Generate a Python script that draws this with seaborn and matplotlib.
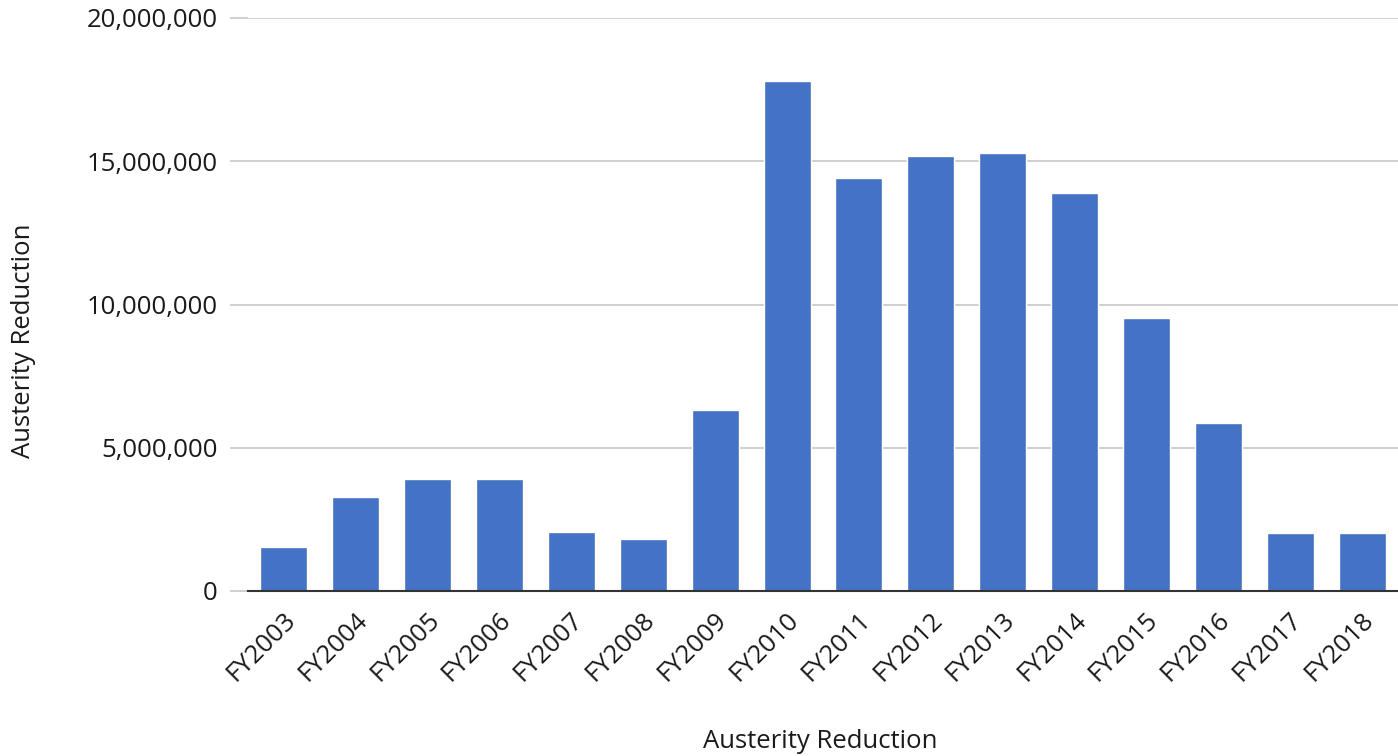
import matplotlib
matplotlib.use("Agg")
import matplotlib.pyplot as plt
import seaborn as sns
import pandas as pd
from matplotlib.ticker import FuncFormatter
from matplotlib.transforms import ScaledTranslation

years = ["FY2003", "FY2004", "FY2005", "FY2006", "FY2007", "FY2008", "FY2009", "FY2010",
         "FY2011", "FY2012", "FY2013", "FY2014", "FY2015", "FY2016", "FY2017", "FY2018"]
reduction = [1540000, 3290000, 3900000, 3900000, 2060000, 1800000, 6320000, 17800000,
             14420000, 15200000, 15290000, 13900000, 9520000, 5870000, 2040000, 2040000]
y_ticks = [0, 5000000, 10000000, 15000000, 20000000]

df = pd.DataFrame({"year": years, "reduction": reduction})

sns.set_theme(style="white")
plt.rcParams["font.family"] = ["Open Sans", "DejaVu Sans"]

FS = 18.5
TEXT = "#1a1a1a"

fig = plt.figure(figsize=(13.98, 7.56), dpi=100)
ax = fig.add_axes([248 / 1398, 1 - 591 / 756, 1 - 248 / 1398, (591 - 18) / 756])

sns.barplot(data=df, x="year", y="reduction", color="#4472C4", width=0.655,
            saturation=1, ax=ax, zorder=3)

ax.set_ylim(0, 20000000)
ax.set_xlim(-0.5, len(years) - 0.5)
ax.set_yticks(y_ticks)
ax.yaxis.set_major_formatter(FuncFormatter(lambda v, _: f"{int(v):,}"))
ax.grid(axis="y", color="#cccccc", linewidth=1.3, zorder=0)
ax.grid(axis="x", visible=False)

for side in ["top", "right", "left"]:
    ax.spines[side].set_visible(False)
ax.spines["bottom"].set_color("#333333")
ax.spines["bottom"].set_linewidth(1.5)
ax.spines["bottom"].set_zorder(4)

ax.tick_params(axis="y", length=13, width=1.3, color="#cccccc", labelsize=FS,
               labelcolor=TEXT, pad=9, left=True)
ax.tick_params(axis="x", length=0, labelsize=FS, labelcolor=TEXT, pad=18)
shift = ScaledTranslation(0.08, 0, fig.dpi_scale_trans)
for lab in ax.get_xticklabels():
    lab.set_rotation(45)
    lab.set_ha("right")
    lab.set_va("center")
    lab.set_rotation_mode("anchor")
    lab.set_transform(lab.get_transform() + shift)

ax.set_xlabel("Austerity Reduction", fontsize=FS, color=TEXT, va="top")
ax.xaxis.set_label_coords(0.498, -0.24)
ax.set_ylabel("Austerity Reduction", fontsize=FS, color=TEXT)
ax.yaxis.set_label_coords(-0.184, 0.436)

fig.savefig("out.png", dpi=100)
